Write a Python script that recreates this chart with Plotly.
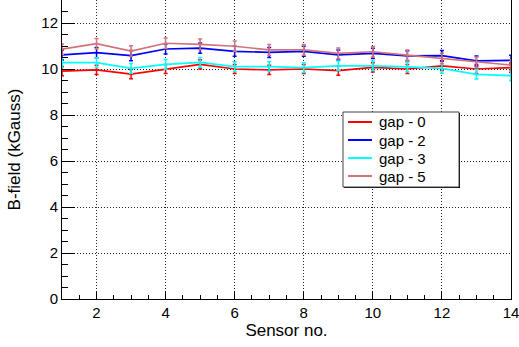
import plotly.graph_objects as go

sensors = list(range(1, 15))
gap0 = [9.91, 9.96, 9.78, 10.00, 10.20, 10.00, 9.96, 10.00, 9.93, 10.07, 10.00, 10.14, 10.00, 10.06]
gap2 = [10.61, 10.71, 10.58, 10.87, 10.91, 10.77, 10.72, 10.77, 10.61, 10.68, 10.57, 10.58, 10.35, 10.38]
gap3 = [10.28, 10.28, 10.03, 10.20, 10.29, 10.10, 10.10, 10.06, 10.14, 10.14, 10.09, 10.03, 9.77, 9.71]
gap5 = [10.86, 11.10, 10.78, 11.12, 11.07, 10.99, 10.83, 10.83, 10.68, 10.75, 10.60, 10.46, 10.29, 10.17]
err0 = [0.20, 0.20, 0.20, 0.20, 0.20, 0.20, 0.20, 0.20, 0.20, 0.20, 0.20, 0.20, 0.20, 0.20]
err2 = [0.22, 0.22, 0.22, 0.22, 0.22, 0.22, 0.22, 0.22, 0.22, 0.22, 0.22, 0.22, 0.22, 0.22]
err3 = [0.21, 0.21, 0.21, 0.21, 0.21, 0.21, 0.21, 0.21, 0.21, 0.21, 0.21, 0.21, 0.21, 0.21]
err5 = [0.23, 0.23, 0.23, 0.23, 0.23, 0.23, 0.23, 0.23, 0.23, 0.23, 0.23, 0.23, 0.23, 0.23]
names = ["gap - 0", "gap - 2", "gap - 3", "gap - 5"]
colors = ["#ff0000", "#0000ff", "#00ffff", "#d2737a"]

# plot area in pixels
L, R, T, B = 62, 511, 0, 299
W, H = R - L, B - T


def px(x):
    return (x - L) / W


def py(y):
    return 1 - (y - T) / H


fig = go.Figure()
for name, ys, es, c in zip(names, [gap0, gap2, gap3, gap5], [err0, err2, err3, err5], colors):
    fig.add_trace(go.Scatter(
        x=sensors, y=ys, name=name, mode="lines", showlegend=False,
        line=dict(color=c, width=1.7),
        error_y=dict(type="data", array=es, visible=True, color=c, thickness=1.5, width=2),
    ))

ff = "Liberation Sans, Arial, sans-serif"
tickfont = dict(family=ff, size=15, color="black")
titlefont = dict(family=ff, size=17, color="black")

# legend box (drawn manually, ROOT style)
lx0, lx1, ly0, ly1 = 343, 459, 112, 187
shapes = [
    dict(type="rect", xref="paper", yref="paper",
         x0=px(lx0 + 1), x1=px(lx1 + 1), y0=py(ly1 + 1), y1=py(ly0 + 1),
         fillcolor="black", line=dict(width=0), layer="above"),
    dict(type="rect", xref="paper", yref="paper",
         x0=px(lx0), x1=px(lx1), y0=py(ly1), y1=py(ly0),
         fillcolor="white", line=dict(color="#444", width=1), layer="above"),
]
annotations = []
row_y = [122, 140, 158, 176]
for name, c, ry in zip(names, colors, row_y):
    shapes.append(dict(type="line", xref="paper", yref="paper",
                       x0=px(348), x1=px(372), y0=py(ry), y1=py(ry),
                       line=dict(color=c, width=2), layer="above"))
    annotations.append(dict(xref="paper", yref="paper", x=px(377), y=py(ry),
                            xanchor="left", yanchor="middle", text=name,
                            showarrow=False, font=dict(family=ff, size=15, color="black")))

fig.update_layout(
    width=519, height=347,
    margin=dict(l=L, r=519 - R, t=T, b=347 - B),
    paper_bgcolor="white", plot_bgcolor="white",
    showlegend=False,
    xaxis=dict(
        range=[1, 14], dtick=2, tick0=0,
        ticks="inside", ticklen=8, tickcolor="black", tickwidth=1,
        minor=dict(dtick=0.5, ticks="inside", ticklen=4, tickcolor="black", showgrid=False),
        showline=True, linecolor="black", linewidth=1, mirror=True,
        showgrid=True, gridcolor="#222", griddash="1px,2px", gridwidth=1,
        zeroline=False, ticklabeloverflow="allow",
        title=dict(text="Sensor no.", font=titlefont, standoff=4),
        tickfont=tickfont,
    ),
    yaxis=dict(
        range=[0, 13], dtick=2, tick0=0,
        ticks="inside", ticklen=13, tickcolor="black", tickwidth=1,
        minor=dict(dtick=0.5, ticks="inside", ticklen=6, tickcolor="black", showgrid=False),
        showline=True, linecolor="black", linewidth=1, mirror=True,
        showgrid=True, gridcolor="#222", griddash="1px,2px", gridwidth=1,
        zeroline=False, ticklabeloverflow="allow",
        title=dict(text="B-field (kGauss)", font=titlefont, standoff=16),
        tickfont=tickfont,
    ),
    shapes=shapes,
    annotations=annotations,
)

fig.write_html("out.html")
